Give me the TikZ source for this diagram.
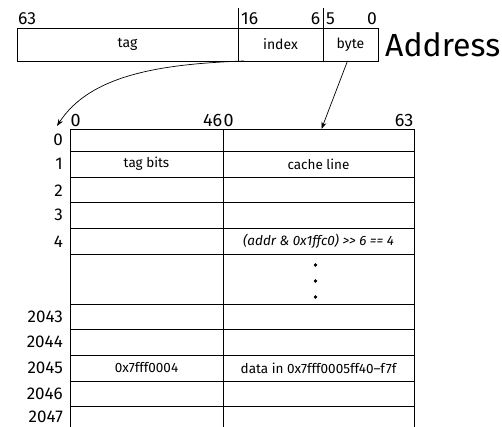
\documentclass[tikz,border=0pt]{standalone}
\usepackage{fontspec}
\setmainfont{Fira Sans}
\usetikzlibrary{arrows.meta}
\begin{document}
\begin{tikzpicture}[x=1pt,y=-1pt,
  cell/.style={draw,line width=0.8pt,inner sep=0pt,outer sep=0pt},
  celltext/.style={font=\fontsize{13.5}{15}\selectfont},
  afield/.style={draw,line width=0.8pt,inner sep=0pt,outer sep=0pt,minimum height=33pt,font=\fontsize{14}{16}\selectfont},
  bitlbl/.style={inner sep=1pt,font=\fontsize{17.5}{19}\selectfont},
  collbl/.style={inner sep=0.5pt,font=\fontsize{18}{20}\selectfont},
  rowlbl/.style={inner sep=0pt,anchor=east,font=\fontsize{17}{19}\selectfont},
  conn/.style={line width=0.7pt,-{Stealth[length=7pt,width=5pt]}},
  dotmark/.style={circle,fill,inner sep=0pt,minimum size=3.6pt}]
\clip (0,0) rectangle (502,427);
% address
\node[afield,minimum width=221pt] (tagf) at (127.5,44.5) {tag};
\node[afield,minimum width=85pt] (idx) at (280.5,44.5) {index};
\node[afield,minimum width=55pt] (byte) at (350.5,44.5) {byte};
\draw[line width=0.8pt] (tagf.north east) -- ++(0,-20);
\draw[line width=0.8pt] (idx.north east) -- ++(0,-20);
\node[bitlbl,anchor=base west,yshift=3pt] at (tagf.north west) {63};
\node[bitlbl,anchor=base west,yshift=3pt,xshift=2pt] at (idx.north west) {16};
\node[bitlbl,anchor=base east,yshift=3pt,xshift=-1.5pt] at (idx.north east) {6};
\node[bitlbl,anchor=base west,yshift=3pt,xshift=2pt] at (byte.north west) {5};
\node[bitlbl,anchor=base east,yshift=3pt] at (byte.north east) {0};
\node[anchor=west,inner sep=0pt,font=\fontsize{32}{34}\selectfont] (addr) at (385,45) {Address};
% table
\foreach \n/\a/\b/\s in {0/129/151/0,1/151/177/0,2/177/202/-1,3/202/228/0,4/228/254/-1,2043/304/329/0,2044/329/355/0,2045/355/381/0,2046/381/406/0,2047/406/432/2}{
  \node[cell,minimum width=153pt,minimum height={(\b-\a)*1pt}] (t\n) at (146.5,{(\a+\b)/2}) {};
  \node[cell,minimum width=191pt,minimum height={(\b-\a)*1pt}] (c\n) at (318.5,{(\a+\b)/2}) {};
  \node[rowlbl] at ([xshift=-7pt,yshift=\s pt]t\n.west) {\n};
}
\node[cell,minimum width=153pt,minimum height=50pt] (td) at (146.5,279) {};
\node[cell,minimum width=191pt,minimum height=50pt] (cd) at (318.5,279) {};
\node[celltext] at (t1) {tag bits};
\node[celltext] at (c1) {cache line};
\node[celltext,font=\fontsize{13.5}{15}\selectfont\itshape] at (c4) {(addr \& 0x1ffc0) >\kern0pt> 6 == 4};
\node[celltext] at (t2045) {0x7fff0004};
\node[celltext] at (c2045) {data in 0x7fff0005ff40–f7f};
\node[dotmark] (d1) at ([xshift=-3pt,yshift=14pt]cd.center) {};
\node[dotmark] (d2) at ([xshift=-3pt,yshift=-2pt]cd.center) {};
\node[dotmark] (d3) at ([xshift=-3pt,yshift=-18pt]cd.center) {};
\node[collbl,anchor=base west,yshift=2pt] at (t0.north west) {0};
\node[collbl,anchor=base east,yshift=2pt] at (t0.north east) {46};
\node[collbl,anchor=base west,yshift=2pt] at (c0.north west) {0};
\node[collbl,anchor=base east,yshift=2pt] at (c0.north east) {63};
% connectors
\coordinate (a0) at (57,126);
\draw[conn] ([xshift=6pt]idx.south west) .. controls (160,64) and (90,75) .. (a0);
\draw[conn] ([xshift=-3pt]byte.south) -- ([xshift=3pt]c0.north);
\end{tikzpicture}
\end{document}
